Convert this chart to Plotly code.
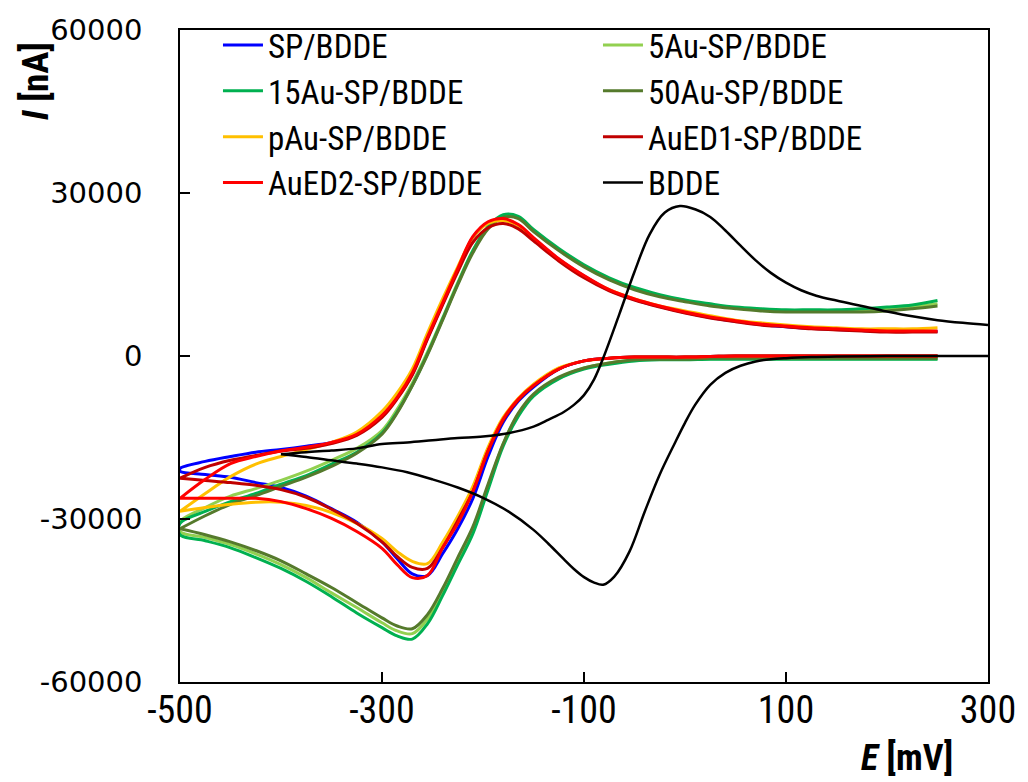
import plotly.graph_objects as go

# Potential grid (mV) for the SP-modified electrodes
E_SP = [-500, -475, -450, -425, -400, -375, -350, -325, -300, -285, -270, -255, -240, -225,
        -210, -195, -180, -165, -150, -125, -100, -75, -50, -25, 0, 25, 50, 75, 100, 125,
        150, 175, 200, 225, 250]

# Current (nA): forward (upper) and reverse (lower) branches
sp_up = [-20700, -19400, -18500, -17700, -17200, -16600, -15900, -14400, -11100,
         -7700, -3300, 3300, 9600, 15900, 21800, 24500, 25100, 24000, 21600,
         17800, 14700, 12100, 10400, 9100, 8000, 7100, 6400, 5800, 5400, 5100, 4900, 4700, 4500, 4500, 4500]
sp_dn = [-21200, -21800, -22300, -23300, -24200, -25800, -28100, -30600, -34200,
         -37300, -40100, -40400, -36400, -31800, -26200, -18500, -12200, -8300, -5700,
         -2400, -900, -400, -200, -200, -200, -100, 0, 0, 0, 0, 0, 0, 0, 0, 0]

au5_up = [-30500, -27900, -25800, -24400, -22900, -21200, -19200, -17000, -13700,
          -9800, -5000, 700, 7000, 13500, 19400, 23800, 25800, 25500, 23100,
          19600, 16600, 14200, 12400, 11100, 10200, 9400, 8900, 8500, 8300, 8300, 8300, 8500, 8700, 9000, 9600]
au5_dn = [-32300, -33400, -34700, -36400, -38400, -40800, -43600, -46300, -49100,
          -50600, -51100, -48400, -43400, -37700, -31900, -24000, -16200, -10700, -7200,
          -4100, -2200, -1300, -700, -600, -600, -500, -500, -500, -500, -500, -500, -500, -500, -500, -500]

au15_up = [-30800, -28600, -26800, -25300, -23600, -22000, -19900, -17700, -14200,
           -10300, -5400, 400, 6800, 13300, 19400, 23800, 26000, 25700, 23300,
           19800, 16800, 14400, 12600, 11300, 10300, 9600, 9000, 8700, 8500, 8500, 8500, 8700, 9000, 9400, 10200]
au15_dn = [-32900, -34000, -35300, -37100, -39100, -41500, -44300, -47300, -50000,
           -51500, -52100, -49300, -44100, -38400, -32700, -24600, -16600, -11100, -7400,
           -4200, -2400, -1500, -900, -700, -700, -600, -600, -600, -600, -600, -600, -600, -600, -600, -600]

au50_up = [-31800, -29400, -27300, -25700, -24000, -22300, -20300, -17900, -14400,
           -10500, -5500, 200, 6600, 13100, 19000, 23400, 25500, 25300, 22900,
           19400, 16400, 14000, 12200, 10900, 10000, 9200, 8700, 8300, 8100, 8100, 8100, 8100, 8300, 8700, 9200]
au50_dn = [-31800, -32900, -34200, -35800, -37700, -40100, -42600, -45400, -48200,
           -49700, -50200, -47600, -42800, -37100, -31400, -23600, -16100, -10500, -7000,
           -3900, -2200, -1300, -700, -600, -600, -400, -400, -400, -400, -400, -400, -400, -400, -400, -400]

pau_up = [-28600, -25300, -22200, -19900, -18500, -17200, -15900, -14000, -10200,
          -6800, -2400, 4200, 10500, 16400, 21800, 24400, 24900, 24000, 21600,
          17700, 14600, 12200, 10500, 9200, 8300, 7400, 6600, 6100, 5700, 5400, 5200, 5000, 5000, 5000, 5200]
pau_dn = [-28600, -27900, -27300, -26900, -26900, -27500, -28800, -30800, -33600,
          -36000, -37800, -38200, -34300, -29500, -24000, -16800, -11300, -7800, -5200,
          -2200, -900, -400, -200, -200, -200, -100, 0, 0, 0, 0, 0, 0, 0, 0, 0]

aued1_up = [-22500, -20500, -19200, -18300, -17500, -17000, -16100, -14600, -11300,
            -7900, -3500, 3100, 9400, 15500, 20900, 23600, 24400, 23400, 21200,
            17500, 14400, 12000, 10300, 9000, 7900, 7000, 6300, 5700, 5400, 5000, 4800, 4600, 4400, 4400, 4400]
aued1_dn = [-22500, -22900, -23300, -23800, -24600, -26000, -28200, -30800, -34200,
            -36900, -38900, -39100, -35300, -30300, -24900, -17500, -11800, -8100, -5500,
            -2400, -900, -400, -200, -200, -200, -100, 0, 0, 0, 0, 0, 0, 0, 0, 0]

aued2_up = [-26200, -22700, -19800, -18500, -17500, -16800, -15900, -14400, -10900,
            -7600, -3100, 3500, 9800, 16100, 22000, 24700, 25300, 24200, 21800,
            17900, 14800, 12200, 10500, 9200, 8100, 7200, 6500, 5900, 5500, 5200, 5000, 4800, 4600, 4600, 4600]
aued2_dn = [-26200, -26200, -26200, -26200, -26800, -28100, -29900, -32300, -35400,
            -38400, -40800, -40400, -35300, -30800, -24900, -17400, -11600, -7900, -5400,
            -2400, -900, -400, -200, -200, -200, -100, 0, 0, 0, 0, 0, 0, 0, 0, 0]

# Bare BDDE
E_B_up = [-400, -375, -350, -325, -300, -275, -250, -225, -200, -175, -150, -135, -120, -110,
          -100, -90, -80, -65, -50, -35, -20, -5, 10, 25, 40, 55, 70, 85, 100, 115, 130, 150,
          175, 200, 225, 250, 275, 300]
bdde_up = [-18100, -17700, -17400, -17000, -16200, -15900, -15500, -15100, -14800, -14200,
           -13000, -11700, -10300, -9000, -7200, -4300, 100, 7700, 15500, 22400, 26400,
           27600, 27000, 25600, 23100, 20300, 17600, 15300, 13500, 12100, 11100, 10200,
           9200, 8200, 7300, 6600, 6100, 5700]
E_B_dn = [300, 250, 200, 150, 125, 100, 85, 70, 55, 40, 25, 10, 0, -10, -25, -40, -55, -70,
          -81, -90, -100, -110, -120, -135, -150, -175, -200, -225, -250, -275, -300, -325,
          -350, -375, -400]
bdde_dn = [0, 0, 0, -100, -200, -400, -600, -1000, -1800, -3100, -5300, -9000, -12300,
           -16000, -21800, -28700, -36000, -40600, -42100, -41700, -40700, -39200, -37400,
           -34600, -32000, -28600, -26100, -24200, -22700, -21400, -20500, -19800, -19200,
           -18600, -18100]

names = ["SP/BDDE", "5Au-SP/BDDE", "15Au-SP/BDDE", "50Au-SP/BDDE",
         "pAu-SP/BDDE", "AuED1-SP/BDDE", "AuED2-SP/BDDE", "BDDE"]
colors = ["#0000FF", "#92D050", "#00B050", "#557A2C",
          "#FFC000", "#C00000", "#FF0000", "#000000"]

sp_series = [(sp_up, sp_dn), (au5_up, au5_dn), (au15_up, au15_dn), (au50_up, au50_dn),
             (pau_up, pau_dn), (aued1_up, aued1_dn), (aued2_up, aued2_dn)]

NARROW = "Liberation Sans Narrow, Roboto Condensed, DejaVu Sans Condensed, Arial Narrow, sans-serif"

fig = go.Figure()
for (up, dn), name, col in zip(sp_series, names[:7], colors[:7]):
    xs = E_SP[::-1] + E_SP
    ys = dn[::-1] + up
    fig.add_trace(go.Scatter(x=xs, y=ys, mode="lines", name=name,
                             line=dict(color=col, width=3, shape="spline", smoothing=1.0)))

fig.add_trace(go.Scatter(x=E_B_dn + E_B_up, y=bdde_dn + bdde_up, mode="lines", name=names[7],
                         line=dict(color=colors[7], width=2.5, shape="spline", smoothing=1.0)))

axis_common = dict(showline=True, linecolor="#000000", linewidth=1.5, mirror=True,
                   ticks="inside", ticklen=10, tickwidth=1.5, tickcolor="#000000",
                   showgrid=False, zeroline=False)

x_ticks = [-500, -300, -100, 100, 300]
y_ticks = [-60000, -30000, 0, 30000, 60000]

fig.update_xaxes(range=[-500, 300], tickvals=x_ticks, ticktext=[str(v) for v in x_ticks],
                 tickfont=dict(family=NARROW, size=38, color="#000000"),
                 ticklabelstandoff=-6, **axis_common)
fig.update_yaxes(range=[-60000, 60000], tickvals=y_ticks, ticktext=[str(v) for v in y_ticks],
                 tickfont=dict(family="DejaVu Sans, Verdana, sans-serif", size=29, color="#000000"),
                 ticklabelstandoff=30, **axis_common)

fig.update_layout(
    width=1028, height=782,
    margin=dict(l=180, r=33, t=30, b=100),
    plot_bgcolor="white", paper_bgcolor="white",
    legend=dict(orientation="h", x=0.047, y=1.02, xanchor="left", yanchor="top",
                entrywidth=325, entrywidthmode="pixels", itemwidth=40,
                font=dict(family=NARROW, size=33, color="#000000"),
                bgcolor="rgba(0,0,0,0)", tracegroupgap=0),
    annotations=[
        dict(text="<b><i>I</i> [nA]</b>", xref="paper", yref="paper", x=-0.178, y=0.922,
             textangle=-90, showarrow=False, xanchor="center", yanchor="middle",
             font=dict(family=NARROW, size=37, color="#000000")),
        dict(text="<b><i>E</i> [mV]</b>", xref="paper", yref="paper", x=0.9, y=-0.152,
             showarrow=False, xanchor="center", yanchor="bottom",
             font=dict(family=NARROW, size=36, color="#000000")),
    ],
)

fig.write_html("out.html")
